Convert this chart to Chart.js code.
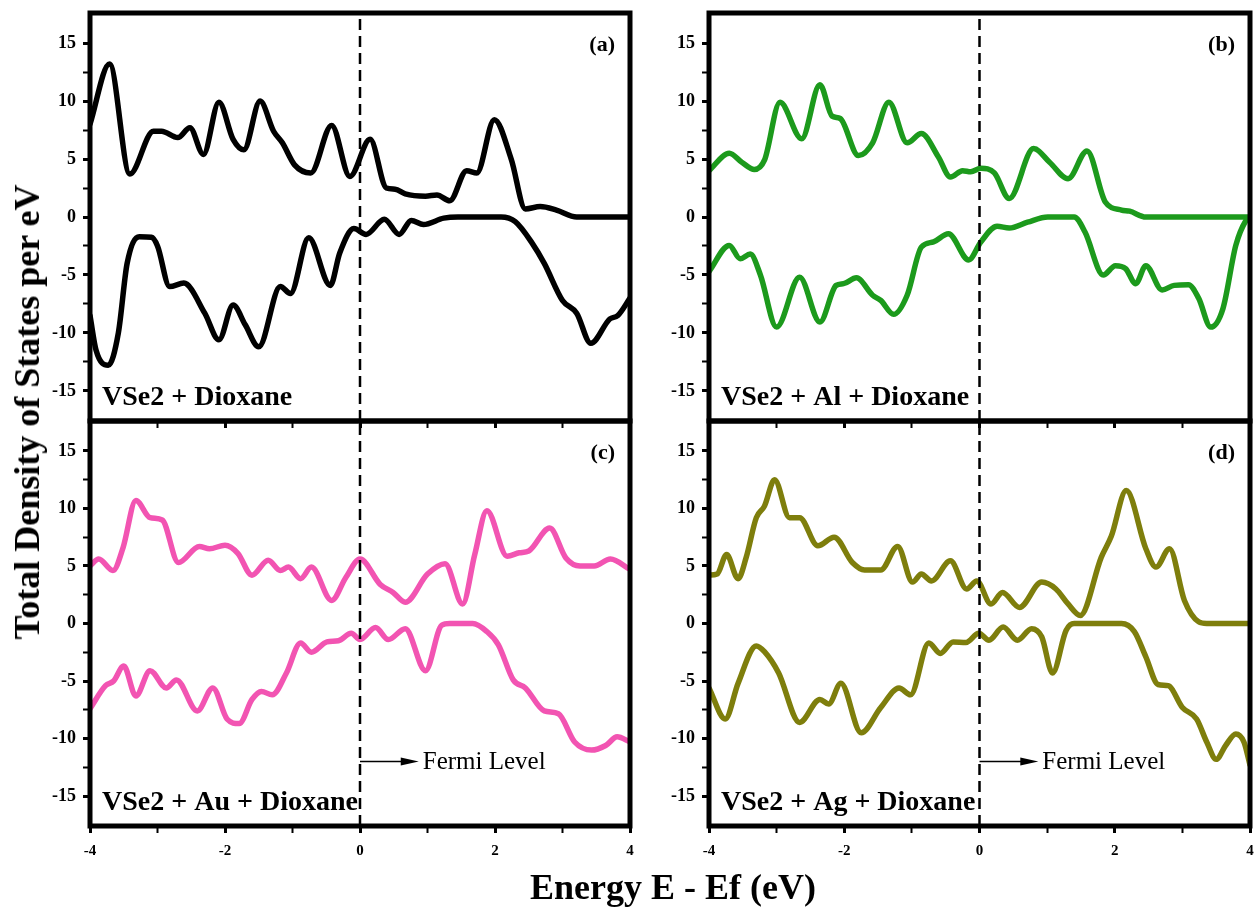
<!DOCTYPE html>
<html>
<head>
<meta charset="utf-8">
<script src="https://cdn.jsdelivr.net/npm/chart.js@4.4.1/dist/chart.umd.min.js"></script>
<style>
  body { margin: 0; background: #fff; width: 1255px; height: 912px; position: relative; overflow: hidden; }
  canvas { position: absolute; }
  .axis-title {
    position: absolute;
    font-family: 'Liberation Serif', 'Times New Roman', serif;
    font-weight: bold;
    color: #000;
    white-space: nowrap;
    line-height: 1;
  }
</style>
</head>
<body>
<canvas id="panelA" width="645" height="440" style="left:0px;top:0px"></canvas>
<canvas id="panelB" width="636" height="440" style="left:619px;top:0px"></canvas>
<canvas id="panelC" width="645" height="512" style="left:0px;top:400px"></canvas>
<canvas id="panelD" width="636" height="512" style="left:619px;top:400px"></canvas>
<div class="axis-title" id="yTitle" style="font-size:36px;left:27px;top:412px;transform:translate(-50%,-50%) rotate(-90deg)">Total Density of States per eV</div>
<div class="axis-title" id="xTitle" style="font-size:36px;left:0px;top:869px;width:1346px;text-align:center">Energy E - Ef (eV)</div>
<script>
'use strict';

// energy axis ticks (eV) and DOS axis ticks
const xTicks = [-4, -3, -2, -1, 0, 1, 2, 3, 4];
const xLabels = [-4, -2, 0, 2, 4];
const yTicks = [-15, -12.5, -10, -7.5, -5, -2.5, 0, 2.5, 5, 7.5, 10, 12.5, 15];
const yLabels = [-15, -10, -5, 0, 5, 10, 15];
const yRange = 17.6;
const fermiArrowY = -12;
const fermiArrowEnd = 0.87;

// (a) VSe2 + Dioxane
const aUpE = [-4.0, -3.71, -3.41, -3.06, -2.94, -2.70, -2.52, -2.32, -2.09, -1.88, -1.72, -1.48, -1.28, -1.15, -0.97, -0.73, -0.42, -0.15, 0.15, 0.39, 0.52, 0.67, 0.97, 1.14, 1.33, 1.58, 1.73, 1.99, 2.24, 2.45, 2.67, 2.91, 3.21, 4.0];
const aUpD = [8.0, 13.2, 3.7, 7.4, 7.4, 6.85, 7.7, 5.4, 9.9, 6.7, 5.8, 10.0, 7.4, 6.4, 4.5, 3.8, 7.9, 3.5, 6.7, 2.5, 2.4, 2.0, 1.8, 1.9, 1.4, 4.0, 3.8, 8.4, 5.0, 0.7, 0.9, 0.6, 0, 0];
const aDnE = [-4.0, -3.91, -3.73, -3.58, -3.45, -3.27, -3.09, -3.0, -2.82, -2.61, -2.30, -2.09, -1.88, -1.70, -1.50, -1.18, -1.03, -0.76, -0.44, -0.30, -0.09, 0.09, 0.36, 0.58, 0.76, 0.94, 1.24, 1.45, 2.09, 2.30, 2.55, 2.73, 3.0, 3.21, 3.42, 3.70, 3.82, 4.0];
const aDnD = [-8.5, -11.5, -12.8, -10.0, -4.0, -1.7, -1.75, -2.5, -6.0, -5.7, -8.3, -10.6, -7.6, -9.3, -11.2, -6.0, -6.6, -1.8, -5.9, -3.1, -1.0, -1.5, -0.2, -1.5, -0.3, -0.65, -0.1, 0, 0, -0.4, -2.25, -4.0, -7.2, -8.3, -10.9, -8.8, -8.5, -7.0];

// (b) VSe2 + Al + Dioxane
const bUpE = [-4.0, -3.70, -3.51, -3.33, -3.18, -2.95, -2.63, -2.36, -2.18, -2.06, -1.79, -1.58, -1.34, -1.07, -0.86, -0.61, -0.43, -0.25, -0.13, 0.02, 0.22, 0.44, 0.80, 1.04, 1.31, 1.59, 1.86, 2.10, 2.22, 2.46, 4.0];
const bUpD = [4.0, 5.5, 4.7, 4.1, 4.9, 9.9, 6.75, 11.4, 8.7, 8.5, 5.3, 6.4, 9.9, 6.4, 7.2, 5.2, 3.45, 4.0, 3.9, 4.2, 3.8, 1.6, 5.9, 4.7, 3.3, 5.7, 1.3, 0.6, 0.5, 0, 0];
const bDnE = [-4.0, -3.70, -3.54, -3.39, -3.24, -3.0, -2.66, -2.36, -2.12, -2.01, -1.82, -1.58, -1.46, -1.27, -1.07, -0.86, -0.68, -0.46, -0.16, 0.02, 0.26, 0.44, 0.71, 1.01, 1.40, 1.56, 1.83, 2.01, 2.16, 2.31, 2.46, 2.70, 2.88, 3.09, 3.24, 3.42, 3.60, 3.79, 3.94, 4.0];
const bDnD = [-4.7, -2.45, -3.6, -3.2, -5.0, -9.5, -5.2, -9.05, -5.9, -5.75, -5.25, -6.75, -7.2, -8.4, -6.75, -2.6, -2.15, -1.45, -3.7, -2.15, -0.8, -0.95, -0.45, 0, 0, -1.3, -5.0, -4.2, -4.45, -5.75, -4.2, -6.3, -5.9, -5.85, -7.0, -9.5, -7.9, -2.45, -0.3, 0];

// (c) VSe2 + Au + Dioxane
const cUpE = [-4.0, -3.87, -3.66, -3.51, -3.32, -3.11, -2.93, -2.69, -2.38, -2.23, -2.0, -1.81, -1.60, -1.36, -1.18, -1.06, -0.88, -0.72, -0.42, -0.21, 0.0, 0.30, 0.49, 0.67, 1.0, 1.26, 1.52, 1.70, 1.88, 2.18, 2.36, 2.50, 2.81, 3.05, 3.26, 3.47, 3.71, 4.0];
const cUpD = [5.0, 5.6, 4.6, 6.6, 10.7, 9.2, 9.0, 5.3, 6.7, 6.5, 6.8, 6.1, 4.2, 5.5, 4.6, 4.9, 3.9, 4.9, 2.0, 4.0, 5.6, 3.4, 2.7, 1.85, 4.3, 5.2, 1.7, 6.0, 9.8, 5.85, 6.15, 6.3, 8.3, 5.7, 5.0, 5.0, 5.6, 4.7];
const cDnE = [-4.0, -3.77, -3.65, -3.50, -3.32, -3.11, -2.87, -2.72, -2.41, -2.18, -1.97, -1.79, -1.60, -1.46, -1.30, -1.09, -0.88, -0.72, -0.49, -0.32, -0.13, 0.0, 0.23, 0.42, 0.67, 0.97, 1.21, 1.33, 1.67, 1.88, 2.05, 2.27, 2.45, 2.73, 2.94, 3.18, 3.43, 3.64, 3.81, 4.0];
const cDnD = [-7.4, -5.4, -5.0, -3.7, -6.3, -4.1, -5.6, -4.9, -7.6, -5.6, -8.3, -8.7, -6.6, -5.9, -6.2, -4.3, -1.7, -2.5, -1.6, -1.5, -0.85, -1.4, -0.35, -1.4, -0.45, -4.1, -0.15, 0, 0, -0.7, -1.85, -4.9, -5.6, -7.6, -7.85, -10.3, -11.0, -10.6, -9.85, -10.3];

// (d) VSe2 + Ag + Dioxane
const dUpE = [-4.0, -3.88, -3.74, -3.57, -3.45, -3.30, -3.18, -3.03, -2.81, -2.66, -2.39, -2.15, -1.88, -1.70, -1.46, -1.21, -0.99, -0.86, -0.71, -0.43, -0.19, -0.04, 0.17, 0.34, 0.59, 0.92, 1.13, 1.31, 1.49, 1.80, 1.95, 2.17, 2.46, 2.61, 2.81, 3.03, 3.24, 3.36, 4.0];
const dUpD = [4.2, 4.3, 6.0, 3.9, 5.75, 9.2, 10.2, 12.5, 9.2, 9.2, 6.75, 7.5, 5.3, 4.65, 4.65, 6.7, 3.6, 4.3, 3.7, 5.45, 3.0, 3.7, 1.7, 2.7, 1.4, 3.6, 3.0, 1.7, 0.7, 5.75, 7.6, 11.55, 6.5, 4.9, 6.5, 2.0, 0.15, 0, 0];
const dDnE = [-4.0, -3.76, -3.57, -3.30, -3.18, -2.97, -2.66, -2.36, -2.23, -2.05, -1.75, -1.46, -1.19, -1.02, -0.75, -0.58, -0.39, -0.20, -0.01, 0.14, 0.35, 0.56, 0.77, 0.92, 1.08, 1.28, 1.40, 2.10, 2.29, 2.46, 2.64, 2.79, 3.0, 3.21, 3.36, 3.50, 3.64, 3.79, 3.91, 4.0];
const dDnD = [-5.6, -8.3, -5.2, -1.95, -2.45, -4.3, -8.6, -6.6, -7.0, -5.2, -9.5, -7.3, -5.6, -6.2, -1.7, -2.6, -1.6, -1.65, -0.85, -1.45, -0.3, -1.45, -0.45, -1.15, -4.3, -0.6, 0, 0, -0.7, -2.9, -5.3, -5.4, -7.3, -8.3, -10.3, -11.8, -10.6, -9.6, -10.3, -12.3];

const serif = "'Liberation Serif', 'Times New Roman', serif";

function toPoints(es, ds) {
  return es.map((e, i) => ({x: e, y: ds[i]}));
}

// frame, panel tag, system name and the Fermi level arrow
const panelDecor = {
  id: 'panelDecor',
  afterDraw(chart, args, opts) {
    const {ctx, chartArea: a} = chart;
    const xs = chart.scales.x;
    const ys = chart.scales.y;
    ctx.save();
    ctx.strokeStyle = '#000';
    ctx.lineWidth = 5;
    ctx.strokeRect(a.left, a.top, a.right - a.left, a.bottom - a.top);

    ctx.fillStyle = '#000';
    ctx.textBaseline = 'alphabetic';
    ctx.font = 'bold 22px ' + serif;
    ctx.textAlign = 'right';
    ctx.fillText(opts.tag, a.right - 15, a.top + 38);

    ctx.font = 'bold 28px ' + serif;
    ctx.textAlign = 'left';
    ctx.fillText(opts.name, a.left + 12, a.bottom - 16);

    if (opts.fermi) {
      const x0 = xs.getPixelForValue(0);
      const x1 = xs.getPixelForValue(fermiArrowEnd);
      const yy = ys.getPixelForValue(fermiArrowY);
      ctx.lineWidth = 1.5;
      ctx.beginPath();
      ctx.moveTo(x0, yy);
      ctx.lineTo(x1 - 12, yy);
      ctx.stroke();
      ctx.beginPath();
      ctx.moveTo(x1, yy);
      ctx.lineTo(x1 - 18, yy - 4);
      ctx.lineTo(x1 - 18, yy + 4);
      ctx.closePath();
      ctx.fill();
      ctx.font = '25px ' + serif;
      ctx.textBaseline = 'middle';
      ctx.fillText('Fermi Level', x1 + 4, yy + 1);
    }
    ctx.restore();
  }
};

function makePanel(id, up, down, color, tag, name, fermi, showX, padTop, padRight, xHeight) {
  return new Chart(document.getElementById(id), {
    type: 'line',
    data: {
      datasets: [
        {
          data: [{x: 0, y: -yRange}, {x: 0, y: yRange}],
          borderColor: '#000',
          borderWidth: 2.5,
          borderDash: [11, 6],
          pointRadius: 0,
          tension: 0,
        },
        {
          data: up,
          borderColor: color,
          borderWidth: 5.5,
          pointRadius: 0,
          cubicInterpolationMode: 'monotone',
          borderCapStyle: 'round',
          borderJoinStyle: 'round',
        },
        {
          data: down,
          borderColor: color,
          borderWidth: 5.5,
          pointRadius: 0,
          cubicInterpolationMode: 'monotone',
          borderCapStyle: 'round',
          borderJoinStyle: 'round',
        },
      ],
    },
    options: {
      responsive: false,
      animation: false,
      devicePixelRatio: 1,
      layout: {
        padding: {top: padTop, right: padRight, left: 0, bottom: 0},
      },
      plugins: {
        legend: {display: false},
        tooltip: {enabled: false},
        panelDecor: {tag: tag, name: name, fermi: fermi},
      },
      scales: {
        x: {
          type: 'linear',
          min: -4,
          max: 4,
          afterBuildTicks: (s) => { s.ticks = xTicks.map(v => ({value: v})); },
          afterFit: (s) => { s.height = xHeight; s.paddingLeft = 0; s.paddingRight = 0; },
          ticks: {
            autoSkip: false,
            maxRotation: 0,
            padding: 9,
            color: '#000',
            font: {family: serif, size: 15, weight: 'bold'},
            callback: (v) => (showX && xLabels.includes(v)) ? String(v) : '',
          },
          grid: {
            drawOnChartArea: false,
            tickLength: 7,
            tickColor: '#000',
            tickWidth: (c) => (c.tick && c.tick.value % 2 === 0) ? 3 : 2,
          },
          border: {display: false},
        },
        y: {
          type: 'linear',
          min: -yRange,
          max: yRange,
          afterBuildTicks: (s) => { s.ticks = yTicks.map(v => ({value: v})); },
          afterFit: (s) => { s.width = 90; s.paddingTop = 0; s.paddingBottom = 0; },
          ticks: {
            autoSkip: false,
            padding: 7,
            color: '#000',
            font: {family: serif, size: 18, weight: 'bold'},
            callback: (v) => yLabels.includes(v) ? String(v) : '',
          },
          grid: {
            drawOnChartArea: false,
            tickLength: 7,
            tickColor: '#000',
            tickWidth: (c) => (c.tick && c.tick.value % 5 === 0) ? 3 : 2,
          },
          border: {display: false},
        },
      },
    },
    plugins: [panelDecor],
  });
}

makePanel('panelA', toPoints(aUpE, aUpD), toPoints(aDnE, aDnD), '#000000', '(a)', 'VSe2 + Dioxane', false, false, 13, 15, 19);
makePanel('panelB', toPoints(bUpE, bUpD), toPoints(bDnE, bDnD), '#1c9a1c', '(b)', 'VSe2 + Al + Dioxane', false, false, 13, 5, 19);
makePanel('panelC', toPoints(cUpE, cUpD), toPoints(cDnE, cDnD), '#f254b2', '(c)', 'VSe2 + Au + Dioxane', true, true, 21, 15, 86);
makePanel('panelD', toPoints(dUpE, dUpD), toPoints(dDnE, dDnD), '#7e7e0c', '(d)', 'VSe2 + Ag + Dioxane', true, true, 21, 5, 86);
</script>
</body>
</html>
